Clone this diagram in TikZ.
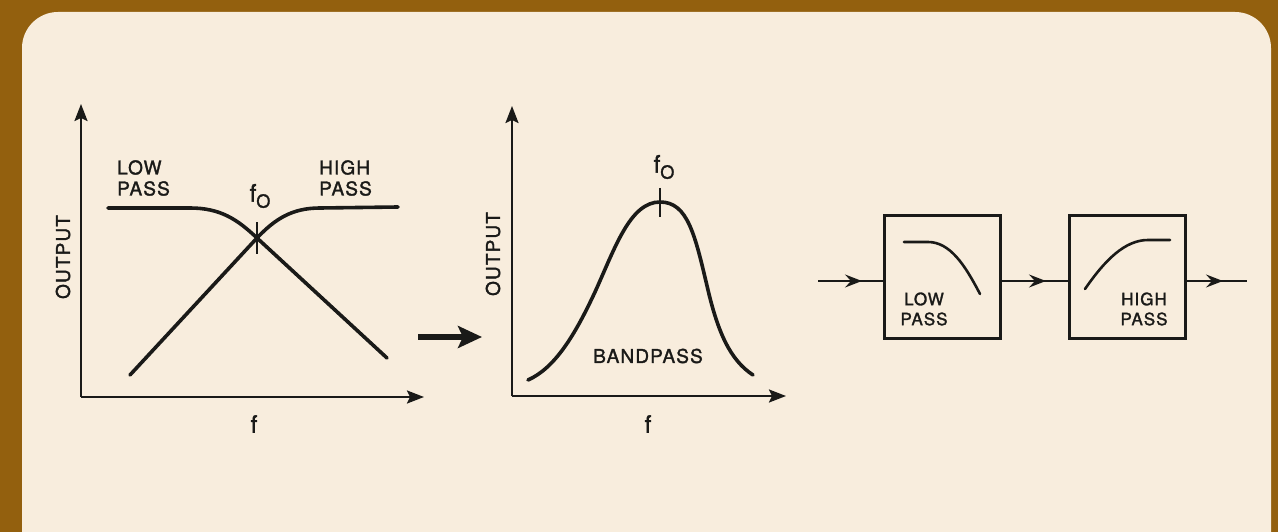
\documentclass[tikz,border=0pt]{standalone}
\usepackage{fontspec}
\newfontfamily\lbl[LetterSpace=6,FakeBold=1.6]{TeX Gyre Heros}
\usetikzlibrary{arrows.meta}
\definecolor{frame}{HTML}{93600E}
\definecolor{paper}{HTML}{F8EDDD}
\definecolor{ink}{HTML}{1A1A18}
\tikzset{
  axis/.style={draw=ink,line width=2.2pt,-{Stealth[length=17pt,width=13pt,inset=3pt]}},
  curve/.style={draw=ink,line width=3.6pt,line cap=round},
  tick/.style={draw=ink,line width=1.8pt},
  lab/.style={font=\lbl\fontsize{19}{21}\selectfont,text=ink,inner sep=0pt},
  flab/.style={font=\lbl\fontsize{24}{24}\selectfont,text=ink,inner sep=0pt},
  blab/.style={font=\lbl\fontsize{17}{20}\selectfont,text=ink,inner sep=0pt,align=center},
  fbox/.style={draw=ink,line width=3pt,minimum width=116pt,minimum height=123pt,inner sep=0pt},
  sig/.style={draw=ink,line width=1.8pt},
  sigarrow/.style={sig,-{Stealth[length=17pt,width=13pt,inset=6pt]}}
}
\newcommand{\fsub}{f\raisebox{-6pt}{\fontsize{18}{18}\selectfont O}}
\begin{document}
\begin{tikzpicture}[x=1pt,y=-1pt]
\useasboundingbox (0,0) rectangle (1278,532);
\fill[frame] (0,0) rectangle (1278,532);
\fill[paper,rounded corners=36pt] (22,12) rectangle (1271,580);
% ---------- left graph ----------
\coordinate (o1) at (81,397);
\coordinate (y1) at (81,104);
\coordinate (x1) at (424,397);
\draw[axis] (o1) -- (y1);
\draw[axis] (o1) -- (x1);
\node[lab,rotate=90] (out1) at (63,257) {OUTPUT};
\node[flab] (f1) at (254,424) {f};
\node[lab,anchor=west,align=left] (lp1) at (117,178) {LOW\\PASS};
\node[lab,anchor=west,align=left] (hp1) at (319,178) {HIGH\\PASS};
\node[flab] (fo1) at (260,196) {\fsub};
\coordinate (c1) at (257,238);
\draw[tick] (257,222) -- (257,254);
\draw[curve] (108,208) -- (190,208) .. controls (220,208) and (237,219) .. (c1) -- (387,358);
\draw[curve] (130,375) -- (c1) .. controls (275,219) and (292,208) .. (320,208) -- (398,207);
% ---------- big arrow ----------
\coordinate (ba) at (418,337);
\coordinate (bb) at (482,337);
\draw[draw=ink,line width=5.5pt,-{Stealth[length=24pt,width=22pt,inset=5pt]}] (ba) -- (bb);
% ---------- middle graph ----------
\coordinate (o2) at (512,396);
\coordinate (y2) at (512,106);
\coordinate (x2) at (786,396);
\draw[axis] (o2) -- (y2);
\draw[axis] (o2) -- (x2);
\node[lab,rotate=90] (out2) at (493,254) {OUTPUT};
\node[flab] (f2) at (648,424) {f};
\node[flab] (fo2) at (664,167) {\fsub};
\node[lab] (bp) at (648,356) {BANDPASS};
\draw[tick] (660,188) -- (660,217);
\draw[curve] (528,380) .. controls (555,368) and (575,335) .. (595,292)
  .. controls (615,248) and (630,202) .. (660,202)
  .. controls (688,202) and (695,235) .. (708,290)
  .. controls (718,332) and (730,360) .. (753,375);
% ---------- block diagram ----------
\node[fbox] (lpf) at (942,277) {};
\node[fbox] (hpf) at (1127,277) {};
\node[blab] at (924,309) {LOW\\PASS};
\node[blab] at (1144,309) {HIGH\\PASS};
\draw[curve,line width=2.6pt] (904,242) -- (928,242) .. controls (950,242) and (965,265) .. (980,294);
\draw[curve,line width=2.6pt] (1085,289) .. controls (1105,260) and (1125,240) .. (1148,240) -- (1170,240);
\coordinate (in) at (818,281);
\coordinate (outp) at (1247,281);
\coordinate (ain) at (862,281);
\coordinate (amid) at (1046,281);
\coordinate (aout) at (1223,281);
\draw[sig] (in) -- (in -| lpf.west);
\draw[sig] (in -| lpf.east) -- (in -| hpf.west);
\draw[sig] (in -| hpf.east) -- (outp);
\draw[sigarrow] (in) -- (ain);
\draw[sigarrow] (in -| lpf.east) -- (amid);
\draw[sigarrow] (in -| hpf.east) -- (aout);
\end{tikzpicture}
\end{document}
